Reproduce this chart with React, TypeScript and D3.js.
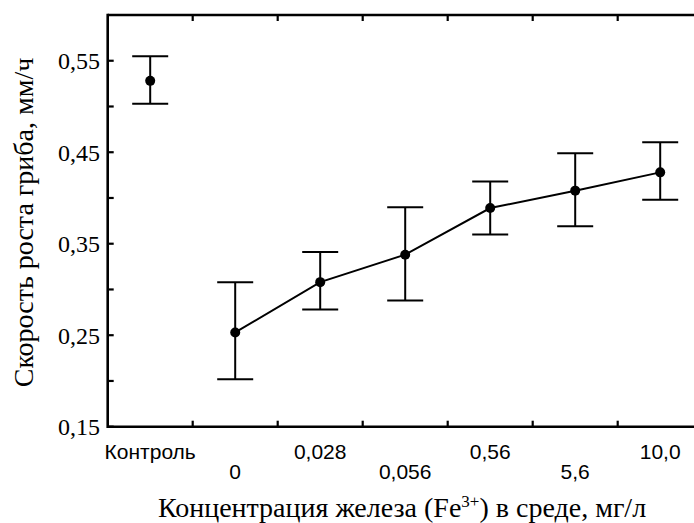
import React from "react";
import * as d3 from "d3";

const categories = ["Контроль", "0", "0,028", "0,056", "0,56", "5,6", "10,0"];
const means = [0.528, 0.253, 0.308, 0.338, 0.389, 0.408, 0.428];
const upper = [0.555, 0.308, 0.341, 0.39, 0.418, 0.449, 0.461];
const lower = [0.503, 0.202, 0.278, 0.288, 0.36, 0.369, 0.398];
const majorTicks = [0.15, 0.25, 0.35, 0.45, 0.55];
const minorTicks = [0.2, 0.3, 0.4, 0.5];
const yTitle = "Скорость роста гриба, мм/ч";

const W = 694;
const H = 523;
const L = 107.7;
const R = 702.7;
const T = 15;
const B = 426.7;

const serifFam = "Times New Roman, Liberation Serif, DejaVu Serif, serif";
const sansFam = "Arial, Liberation Sans, sans-serif";

export default function App() {
  const x = d3.scaleBand<string>().domain(categories).range([L, R]).padding(0);
  const y = d3.scaleLinear().domain([0.15, 0.6]).range([B, T]);
  const cx = (c: string) => (x(c) as number) + x.bandwidth() / 2;
  const line = d3
    .line<number>()
    .x((_, i) => cx(categories[i + 1]))
    .y((d) => y(d));
  const boundaries = categories.slice(1).map((c) => x(c) as number);
  const capW = 18;

  return (
    <svg
      width={W}
      height={H}
      style={{ position: "absolute", left: 0, top: 0, background: "#fff" }}
    >
      <rect x={0} y={0} width={W} height={H} fill="#fff" />
      <line x1={L} y1={T} x2={R} y2={T} stroke="#000" strokeWidth={2.6} />
      <line x1={L} y1={B} x2={R} y2={B} stroke="#000" strokeWidth={2.6} />
      <line x1={L} y1={T - 1.3} x2={L} y2={B + 1.3} stroke="#000" strokeWidth={2.6} />
      {boundaries.map((b, i) => (
        <g key={"xt" + i}>
          <line x1={b} y1={B} x2={b} y2={B - 6} stroke="#000" strokeWidth={2.2} />
          <line x1={b} y1={T} x2={b} y2={T + 6} stroke="#000" strokeWidth={2.2} />
        </g>
      ))}
      {[...majorTicks, ...minorTicks].map((t, i) => (
        <line key={"yt" + i} x1={L} y1={y(t)} x2={L + 6} y2={y(t)} stroke="#000" strokeWidth={2.2} />
      ))}
      <g fontFamily={serifFam} fontSize={24} fill="#000">
        {majorTicks.map((t, i) => (
          <text key={"yl" + i} x={100} y={y(t)} dy="0.35em" textAnchor="end">
            {d3.format(".2f")(t).replace(".", ",")}
          </text>
        ))}
      </g>
      <g fontFamily={sansFam} fontSize={21} fill="#000">
        {categories.map((c, i) => (
          <text key={"xl" + i} x={cx(c)} y={i % 2 === 0 ? 459 : 478.5} textAnchor="middle">
            {c}
          </text>
        ))}
      </g>
      <g fontFamily={serifFam} fontSize={28} fill="#000">
        <text transform={`translate(33, 222.5) rotate(-90)`} textAnchor="middle">
          {yTitle}
        </text>
        <text x={402} y={517} textAnchor="middle">
          Концентрация железа (Fe
          <tspan dy={-10} fontSize={17}>3+</tspan>
          <tspan dy={10}>) в среде, мг/л</tspan>
        </text>
      </g>
      <path d={line(means.slice(1)) || ""} fill="none" stroke="#000" strokeWidth={2} />
      {categories.map((c, i) => (
        <g key={"eb" + i} stroke="#000" strokeWidth={2}>
          <line x1={cx(c)} x2={cx(c)} y1={y(upper[i])} y2={y(lower[i])} />
          <line x1={cx(c) - capW} x2={cx(c) + capW} y1={y(upper[i])} y2={y(upper[i])} />
          <line x1={cx(c) - capW} x2={cx(c) + capW} y1={y(lower[i])} y2={y(lower[i])} />
        </g>
      ))}
      {means.map((m, i) => (
        <circle key={"pt" + i} cx={cx(categories[i])} cy={y(m)} r={5} fill="#000" />
      ))}
    </svg>
  );
}
